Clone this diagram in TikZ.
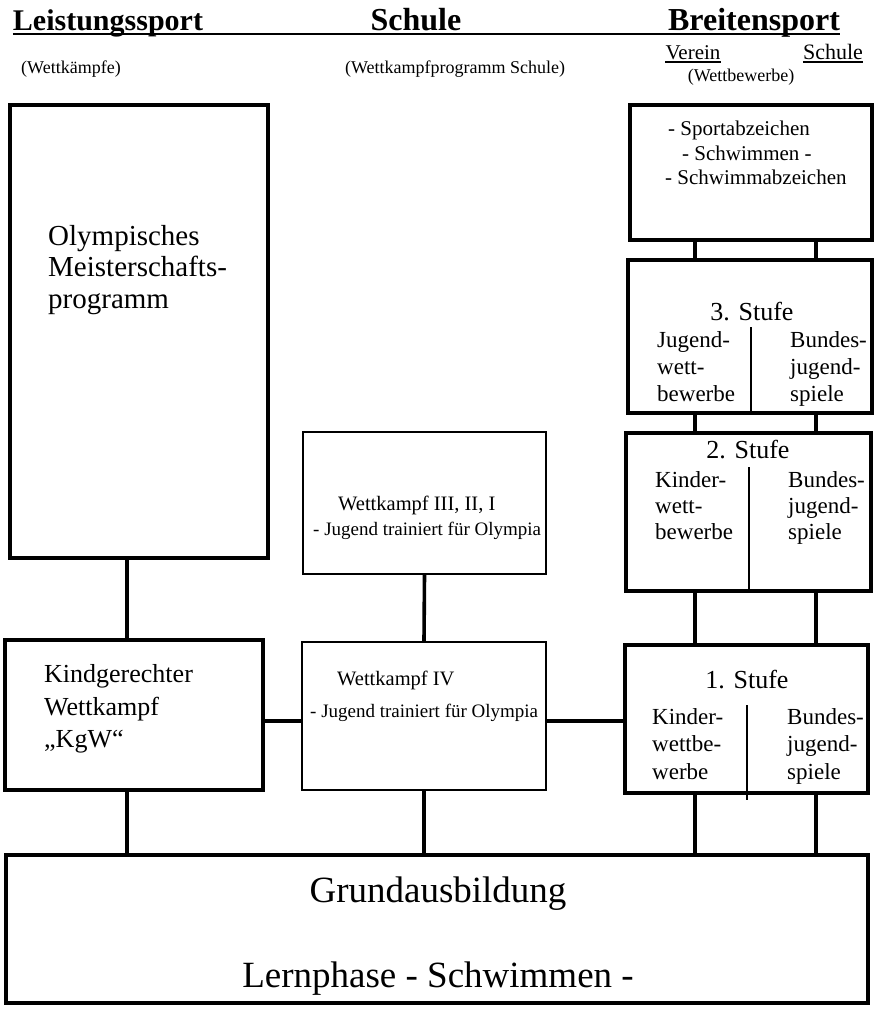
\documentclass[tikz,border=0pt]{standalone}
\usepackage{fontspec}
\setmainfont{Liberation Serif}
\usetikzlibrary{positioning}

\begin{document}
\begin{tikzpicture}[x=1pt,y=-1pt]
	\tikzset{box/.style = {shape=rectangle, draw, line width=3.3pt, inner sep=0pt},
		thinbox/.style = {shape=rectangle, draw, line width=2pt, inner sep=0pt},
		txt/.style = {inner sep=0pt, align=left},
		col/.style = {txt, anchor=north west},
		link/.style = {line width=3.6pt},
		divider/.style = {line width=2pt}}
	\useasboundingbox (0,0) rectangle (876,1010);
	
	\node[txt, font=\bfseries\fontsize{30}{36}\selectfont, anchor=base] (LEIST) at (108,30) {Leistungssport};
	\node[txt, font=\bfseries\fontsize{32}{36}\selectfont, anchor=base] (SCHULE) at (416,30) {Schule};
	\node[txt, font=\bfseries\fontsize{32}{36}\selectfont, anchor=base] (BREIT) at (754,30) {Breitensport};
	\draw[line width=2pt] ([yshift=-4pt]LEIST.base west) -- ([yshift=-4pt]BREIT.base east);
	\node[txt, font=\fontsize{21}{24}\selectfont, anchor=base] (VEREIN) at (693,59) {Verein};
	\node[txt, font=\fontsize{22}{24}\selectfont, anchor=base] (SCHULEB) at (833,59) {Schule};
	\draw[line width=1.3pt] ([yshift=-3pt]VEREIN.base west) -- ([yshift=-3pt]VEREIN.base east);
	\draw[line width=1.3pt] ([yshift=-3pt]SCHULEB.base west) -- ([yshift=-3pt]SCHULEB.base east);
	\node[txt, font=\fontsize{18}{20}\selectfont, anchor=base] (WBEW) at (741,81) {(Wettbewerbe)};
	\node[txt, font=\fontsize{18}{20}\selectfont, anchor=base] (WKAEMPFE) at (71,73) {(Wettkämpfe)};
	\node[txt, font=\fontsize{18}{20}\selectfont, anchor=base] (WPROG) at (455,73) {(Wettkampfprogramm Schule)};
	
	\node[box, minimum width=258pt, minimum height=453pt] (OLYMP) at (139,331.5) {};
	\node[txt, font=\fontsize{29}{31.5}\selectfont, anchor=west] (OLYMPTXT) at (48,270)
	{Olympisches\\
		Meisterschafts-\\
		programm};
	\node[box, minimum width=258pt, minimum height=150pt] (KGW) at (134,715) {};
	\node[txt, font=\fontsize{26}{32.5}\selectfont, anchor=west] (KGWTXT) at (44,709)
	{Kindgerechter\\
		Wettkampf\\
		„KgW“};
	
	\node[thinbox, minimum width=243pt, minimum height=142pt] (WK3) at (424.5,503) {};
	\node[txt, font=\fontsize{19}{25}\selectfont, anchor=west] (WK3TXT) at (313,518)
	{\hspace*{25pt}{\fontsize{20.5}{25}\selectfont Wettkampf III, II, I}\\
		- Jugend trainiert für Olympia};
	\node[thinbox, minimum width=244pt, minimum height=148pt] (WK4) at (424,716) {};
	\node[txt, font=\fontsize{19}{32}\selectfont, anchor=west] (WK4TXT) at (310,696)
	{\hspace*{27pt}{\fontsize{20.5}{32}\selectfont Wettkampf IV}\\
		- Jugend trainiert für Olympia};
	
	\node[box, minimum width=242pt, minimum height=135pt] (SPORT) at (751,172.5) {};
	\node[txt, font=\fontsize{21}{24.5}\selectfont, anchor=west] (SPORTTXT) at (665,153)
	{\hspace*{3pt}- Sportabzeichen\\
		\hspace*{17pt}- Schwimmen -\\
		- Schwimmabzeichen};
	
	\node[box, minimum width=244pt, minimum height=153pt] (ST3) at (750,336.5) {};
	\node[txt, font=\fontsize{26}{30}\selectfont] (ST3TXT) at (752,312) {3. Stufe};
	\node[col, font=\fontsize{23}{27}\selectfont] (ST3L) at (657,331) {Jugend-\\wett-\\bewerbe};
	\node[col, font=\fontsize{23}{27}\selectfont] (ST3R) at (790,331) {Bundes-\\jugend-\\spiele};
	\draw[divider] (751,327) -- (751,413);
	
	\node[box, minimum width=245pt, minimum height=158pt] (ST2) at (748.5,512) {};
	\node[txt, font=\fontsize{26}{30}\selectfont] (ST2TXT) at (748,450) {2. Stufe};
	\node[col, font=\fontsize{23}{26}\selectfont] (ST2L) at (655,471) {Kinder-\\wett-\\bewerbe};
	\node[col, font=\fontsize{23}{26}\selectfont] (ST2R) at (788,471) {Bundes-\\jugend-\\spiele};
	\draw[divider] (749,467) -- (749,591);
	
	\node[box, minimum width=243pt, minimum height=148pt] (ST1) at (746.5,719) {};
	\node[txt, font=\fontsize{26}{30}\selectfont] (ST1TXT) at (747,680) {1. Stufe};
	\node[col, font=\fontsize{23}{27.5}\selectfont] (ST1L) at (652,708) {Kinder-\\wettbe-\\werbe};
	\node[col, font=\fontsize{23}{27.5}\selectfont] (ST1R) at (787,708) {Bundes-\\jugend-\\spiele};
	\draw[divider] (747,705) -- (747,800);
	
	\node[box, minimum width=862pt, minimum height=148pt] (GRUND) at (437,929) {};
	\node[txt, align=center, font=\fontsize{37}{85}\selectfont] (GRUNDTXT) at (438,936)
	{Grundausbildung\\
		Lernphase - Schwimmen -};
	
	\coordinate (XL) at (127,0);
	\coordinate (XA) at (695,0);
	\coordinate (XB) at (816,0);
	\coordinate (YM) at (0,721);
	\draw[link] (OLYMP.south -| XL) -- (KGW.north -| XL);
	\draw[link] (KGW.south -| XL) -- (GRUND.north -| XL);
	\draw[link] (WK3.south) -- (WK4.north);
	\draw[link] (WK4.south) -- (WK4.south |- GRUND.north);
	\draw[link] (KGW.east |- YM) -- (WK4.west |- YM);
	\draw[link] (WK4.east |- YM) -- (ST1.west |- YM);
	\foreach \c in {XA,XB} {
		\draw[link] (SPORT.south -| \c) -- (ST3.north -| \c);
		\draw[link] (ST3.south -| \c) -- (ST2.north -| \c);
		\draw[link] (ST2.south -| \c) -- (ST1.north -| \c);
		\draw[link] (ST1.south -| \c) -- (GRUND.north -| \c);
	}
\end{tikzpicture}
\end{document}
